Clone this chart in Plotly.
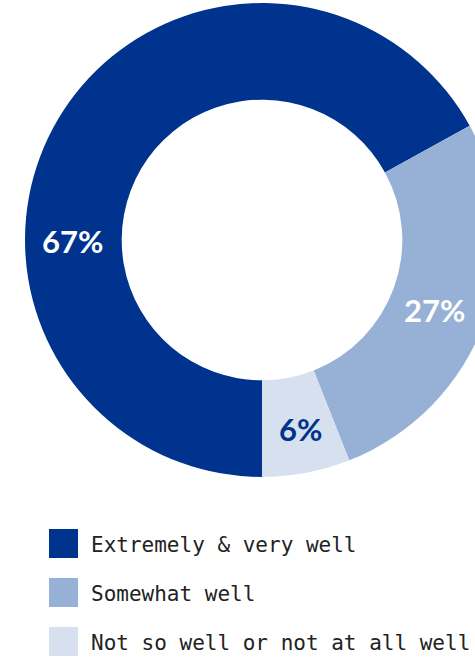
import plotly.graph_objects as go

# Survey response shares
labels = ["Extremely & very well", "Somewhat well", "Not so well or not at all well"]
values = [67, 27, 6]
colors = ["#00338D", "#97B0D5", "#D6E0EF"]
label_colors = ["#FFFFFF", "#FFFFFF", "#00338D"]

W, H = 520, 658

fig = go.Figure()
fig.add_trace(go.Pie(
    labels=labels,
    values=values,
    sort=False,
    direction="clockwise",
    rotation=180,
    hole=0.592,
    marker=dict(colors=colors, line=dict(width=0)),
    textinfo="none",
    domain=dict(x=[25 / W, 499 / W], y=[1 - 477 / H, 1 - 3 / H]),
    showlegend=False,
    hoverinfo="label+percent",
))

annotations = []

# Percentage labels placed on each ring segment (pixel centres)
label_pos = [(72, 241), (434, 310), (300, 429)]
for v, c, (px, py) in zip(values, label_colors, label_pos):
    annotations.append(dict(
        text=f"{v}%", xref="paper", yref="paper",
        x=px / W, y=1 - py / H, xanchor="center", yanchor="middle",
        showarrow=False,
        font=dict(family="Lato", size=31, color=c, weight="bold"),
    ))

# Legend: colour swatch plus monospace caption per category
shapes = []
for i, (lab, col) in enumerate(zip(labels, colors)):
    top = 529 + 49 * i
    shapes.append(dict(
        type="rect", xref="paper", yref="paper",
        x0=49 / W, x1=78 / W, y0=1 - (top + 29) / H, y1=1 - top / H,
        fillcolor=col, line=dict(width=0),
    ))
    annotations.append(dict(
        text=lab, xref="paper", yref="paper",
        x=89 / W, y=1 - (top + 16) / H, xanchor="left", yanchor="middle",
        showarrow=False,
        font=dict(family="DejaVu Sans Mono", size=21, color="#222222"),
    ))

fig.update_layout(
    width=W, height=H,
    margin=dict(l=0, r=0, t=0, b=0),
    paper_bgcolor="white",
    plot_bgcolor="white",
    shapes=shapes,
    annotations=annotations,
)

fig.write_html(
    "out.html",
    post_script="document.documentElement.style.overflow='hidden';document.body.style.overflow='hidden';document.body.style.margin='0';",
)
